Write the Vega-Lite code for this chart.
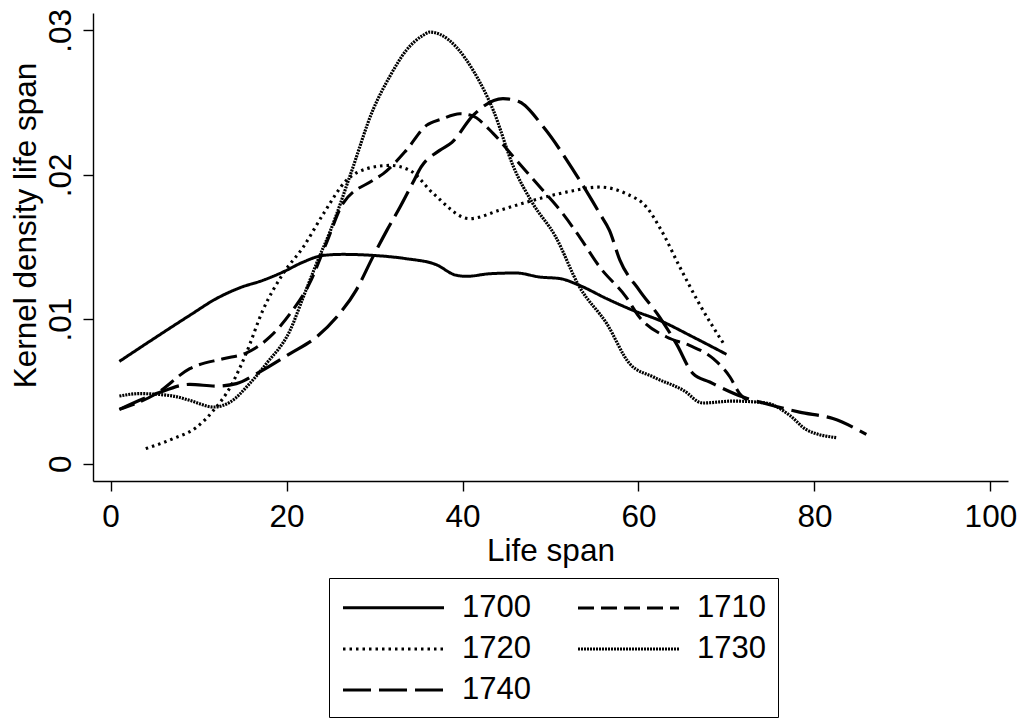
{
  "$schema": "https://vega.github.io/schema/vega-lite/v6.json",
  "width": 915,
  "height": 468,
  "autosize": {"type": "none"},
  "padding": {"left": 93, "top": 13, "right": 13, "bottom": 239},
  "background": "white",
  "config": {
    "view": {"stroke": null},
    "font": "Liberation Sans",
    "axis": {
      "grid": false,
      "domainColor": "black",
      "domainWidth": 1.4,
      "tickColor": "black",
      "tickWidth": 1.4,
      "tickSize": 10,
      "labelColor": "black",
      "titleColor": "black",
      "labelFont": "Liberation Sans",
      "titleFont": "Liberation Sans",
      "labelFontSize": 31.5,
      "titleFontSize": 31.5,
      "titleFontWeight": "normal"
    }
  },
  "data": {
    "values": [
      {"year": "1700", "x": 1, "y": 0.00708}, {"year": "1700", "x": 5.2, "y": 0.00877}, {"year": "1700", "x": 9, "y": 0.01027}, {"year": "1700", "x": 12, "y": 0.01142}, {"year": "1700", "x": 14.7, "y": 0.01218}, {"year": "1700", "x": 17.3, "y": 0.01269}, {"year": "1700", "x": 19.6, "y": 0.01327}, {"year": "1700", "x": 21.9, "y": 0.01396}, {"year": "1700", "x": 24.2, "y": 0.01442}, {"year": "1700", "x": 26.4, "y": 0.01449}, {"year": "1700", "x": 29.8, "y": 0.01442}, {"year": "1700", "x": 33.6, "y": 0.01419}, {"year": "1700", "x": 37, "y": 0.01378}, {"year": "1700", "x": 39.3, "y": 0.01304}, {"year": "1700", "x": 40.5, "y": 0.01297}, {"year": "1700", "x": 43.1, "y": 0.01315}, {"year": "1700", "x": 46.1, "y": 0.0132}, {"year": "1700", "x": 48.8, "y": 0.01292}, {"year": "1700", "x": 51.1, "y": 0.01281}, {"year": "1700", "x": 53.3, "y": 0.01234}, {"year": "1700", "x": 56.4, "y": 0.01142}, {"year": "1700", "x": 59.4, "y": 0.01061}, {"year": "1700", "x": 62.4, "y": 0.00992}, {"year": "1700", "x": 66.2, "y": 0.00877}, {"year": "1700", "x": 70, "y": 0.00757},
      {"year": "1710", "x": 1, "y": 0.00376}, {"year": "1710", "x": 5.2, "y": 0.00485}, {"year": "1710", "x": 9, "y": 0.00658}, {"year": "1710", "x": 12.8, "y": 0.00727}, {"year": "1710", "x": 15.4, "y": 0.00766}, {"year": "1710", "x": 18.1, "y": 0.00877}, {"year": "1710", "x": 20.4, "y": 0.01038}, {"year": "1710", "x": 22.6, "y": 0.01246}, {"year": "1710", "x": 24.5, "y": 0.01523}, {"year": "1710", "x": 26.4, "y": 0.018}, {"year": "1710", "x": 29.8, "y": 0.01961}, {"year": "1710", "x": 31, "y": 0.02008}, {"year": "1710", "x": 33.6, "y": 0.02169}, {"year": "1710", "x": 35.9, "y": 0.02342}, {"year": "1710", "x": 37.6, "y": 0.02385}, {"year": "1710", "x": 39.7, "y": 0.02423}, {"year": "1710", "x": 41, "y": 0.02411}, {"year": "1710", "x": 43.5, "y": 0.02285}, {"year": "1710", "x": 45.8, "y": 0.02123}, {"year": "1710", "x": 48.8, "y": 0.01915}, {"year": "1710", "x": 51.4, "y": 0.01731}, {"year": "1710", "x": 53.3, "y": 0.0157}, {"year": "1710", "x": 55.6, "y": 0.01361}, {"year": "1710", "x": 58.6, "y": 0.01153}, {"year": "1710", "x": 60.1, "y": 0.01015}, {"year": "1710", "x": 63.2, "y": 0.00877}, {"year": "1710", "x": 65.8, "y": 0.00819}, {"year": "1710", "x": 68.5, "y": 0.00727}, {"year": "1710", "x": 70.4, "y": 0.006}, {"year": "1710", "x": 71.5, "y": 0.00485}, {"year": "1710", "x": 72.3, "y": 0.0044},
      {"year": "1720", "x": 4, "y": 0.00104}, {"year": "1720", "x": 7.1, "y": 0.00173}, {"year": "1720", "x": 9.8, "y": 0.00253}, {"year": "1720", "x": 11.7, "y": 0.00369}, {"year": "1720", "x": 13.6, "y": 0.0053}, {"year": "1720", "x": 15.4, "y": 0.00762}, {"year": "1720", "x": 17.3, "y": 0.01061}, {"year": "1720", "x": 19.6, "y": 0.01315}, {"year": "1720", "x": 21.9, "y": 0.015}, {"year": "1720", "x": 24.2, "y": 0.01731}, {"year": "1720", "x": 26.8, "y": 0.01961}, {"year": "1720", "x": 29.1, "y": 0.02042}, {"year": "1720", "x": 31.7, "y": 0.02065}, {"year": "1720", "x": 34, "y": 0.02031}, {"year": "1720", "x": 36.7, "y": 0.01869}, {"year": "1720", "x": 40.8, "y": 0.01696}, {"year": "1720", "x": 44.2, "y": 0.01754}, {"year": "1720", "x": 48, "y": 0.01823}, {"year": "1720", "x": 51.8, "y": 0.0188}, {"year": "1720", "x": 55.6, "y": 0.01915}, {"year": "1720", "x": 58.6, "y": 0.01869}, {"year": "1720", "x": 60.9, "y": 0.01777}, {"year": "1720", "x": 62.6, "y": 0.01615}, {"year": "1720", "x": 64.7, "y": 0.01361}, {"year": "1720", "x": 66.9, "y": 0.01108}, {"year": "1720", "x": 69.8, "y": 0.00819},
      {"year": "1730", "x": 1, "y": 0.00468}, {"year": "1730", "x": 3.3, "y": 0.00485}, {"year": "1730", "x": 7.1, "y": 0.00468}, {"year": "1730", "x": 9, "y": 0.00438}, {"year": "1730", "x": 11.7, "y": 0.00392}, {"year": "1730", "x": 13.6, "y": 0.00427}, {"year": "1730", "x": 15.8, "y": 0.00554}, {"year": "1730", "x": 17.7, "y": 0.00692}, {"year": "1730", "x": 20.4, "y": 0.00923}, {"year": "1730", "x": 21.9, "y": 0.01153}, {"year": "1730", "x": 23.4, "y": 0.01385}, {"year": "1730", "x": 25, "y": 0.01615}, {"year": "1730", "x": 27.3, "y": 0.02008}, {"year": "1730", "x": 29.8, "y": 0.02446}, {"year": "1730", "x": 31.7, "y": 0.02677}, {"year": "1730", "x": 33.6, "y": 0.02861}, {"year": "1730", "x": 35.5, "y": 0.02965}, {"year": "1730", "x": 36.3, "y": 0.02988}, {"year": "1730", "x": 37.5, "y": 0.0297}, {"year": "1730", "x": 39.3, "y": 0.02884}, {"year": "1730", "x": 41.2, "y": 0.02723}, {"year": "1730", "x": 43.5, "y": 0.02446}, {"year": "1730", "x": 45.8, "y": 0.02054}, {"year": "1730", "x": 48, "y": 0.018}, {"year": "1730", "x": 50.5, "y": 0.0158}, {"year": "1730", "x": 53.3, "y": 0.01223}, {"year": "1730", "x": 56.4, "y": 0.00969}, {"year": "1730", "x": 59, "y": 0.00692}, {"year": "1730", "x": 61.7, "y": 0.006}, {"year": "1730", "x": 65.1, "y": 0.00508}, {"year": "1730", "x": 67.3, "y": 0.0042}, {"year": "1730", "x": 70.7, "y": 0.00433}, {"year": "1730", "x": 74.5, "y": 0.0042}, {"year": "1730", "x": 77.2, "y": 0.00334}, {"year": "1730", "x": 79.1, "y": 0.00235}, {"year": "1730", "x": 82.5, "y": 0.0018},
      {"year": "1740", "x": 1, "y": 0.00376}, {"year": "1740", "x": 5.2, "y": 0.00485}, {"year": "1740", "x": 9, "y": 0.00549}, {"year": "1740", "x": 12, "y": 0.00537}, {"year": "1740", "x": 14.3, "y": 0.00554}, {"year": "1740", "x": 16.6, "y": 0.00623}, {"year": "1740", "x": 20.4, "y": 0.00762}, {"year": "1740", "x": 23.4, "y": 0.00877}, {"year": "1740", "x": 25.7, "y": 0.01015}, {"year": "1740", "x": 27.9, "y": 0.012}, {"year": "1740", "x": 29.8, "y": 0.0143}, {"year": "1740", "x": 31.4, "y": 0.01615}, {"year": "1740", "x": 32.9, "y": 0.01777}, {"year": "1740", "x": 34.3, "y": 0.01939}, {"year": "1740", "x": 35.3, "y": 0.02054}, {"year": "1740", "x": 37.4, "y": 0.02169}, {"year": "1740", "x": 38.8, "y": 0.02224}, {"year": "1740", "x": 41.2, "y": 0.02411}, {"year": "1740", "x": 44.6, "y": 0.02527}, {"year": "1740", "x": 46.5, "y": 0.02504}, {"year": "1740", "x": 49.2, "y": 0.0233}, {"year": "1740", "x": 52.6, "y": 0.02031}, {"year": "1740", "x": 55.6, "y": 0.01731}, {"year": "1740", "x": 56.7, "y": 0.01615}, {"year": "1740", "x": 57.9, "y": 0.01407}, {"year": "1740", "x": 60.1, "y": 0.012}, {"year": "1740", "x": 62.4, "y": 0.01015}, {"year": "1740", "x": 64.3, "y": 0.00831}, {"year": "1740", "x": 66.2, "y": 0.00623}, {"year": "1740", "x": 68.1, "y": 0.00565}, {"year": "1740", "x": 71.9, "y": 0.00461}, {"year": "1740", "x": 74.5, "y": 0.00415}, {"year": "1740", "x": 78.3, "y": 0.00357}, {"year": "1740", "x": 82.1, "y": 0.00312}, {"year": "1740", "x": 85.9, "y": 0.00203}
    ]
  },
  "mark": {"type": "line", "interpolate": "monotone", "color": "black", "strokeCap": "butt"},
  "encoding": {
    "x": {
      "field": "x", "type": "quantitative",
      "scale": {"domain": [-2, 102], "nice": false, "zero": false},
      "axis": {"values": [0, 20, 40, 60, 80, 100], "title": "Life span", "labelPadding": 10, "labelBaseline": "top", "titleBaseline": "alphabetic", "titleY": 79, "titleX": 457.5, "titleAnchor": null}
    },
    "y": {
      "field": "y", "type": "quantitative",
      "scale": {"domain": [-0.0012, 0.0312], "nice": false, "zero": false},
      "axis": {
        "values": [0, 0.01, 0.02, 0.03],
        "labelExpr": "datum.value == 0 ? '0' : replace(format(datum.value, '.2f'), '0.', '.')",
        "labelAngle": -90, "labelAlign": "center", "labelBaseline": "alphabetic", "labelPadding": 13,
        "title": "Kernel density life span",
        "titleAngle": -90, "titleAlign": "center", "titleBaseline": "alphabetic", "titleX": -58, "titleY": 212
      }
    },
    "strokeDash": {
      "field": "year", "type": "nominal",
      "scale": {
        "domain": ["1700", "1710", "1720", "1730", "1740"],
        "range": [[1, 0], [16, 7], [2.5, 4], [2, 1], [28, 8]]
      },
      "legend": {
        "title": null,
        "orient": "none",
        "legendX": 236,
        "legendY": 565,
        "direction": "horizontal",
        "columns": 2,
        "symbolType": "M-1,0H5.3125",
        "symbolSize": 1024,
        "symbolStrokeWidth": 3,
        "symbolStrokeColor": "black",
        "symbolFillColor": "transparent",
        "labelFont": "Liberation Sans",
        "labelFontSize": 31,
        "labelColor": "black",
        "labelOffset": 85,
        "columnPadding": 40,
        "rowPadding": 8,
        "padding": 12,
        "strokeColor": "black",
        "fillColor": "white",
        "cornerRadius": 0
      }
    },
    "strokeWidth": {
      "field": "year", "type": "nominal",
      "scale": {"domain": ["1700", "1710", "1720", "1730", "1740"], "range": [3, 3.2, 3, 2.5, 3.2]},
      "legend": null
    }
  }
}
